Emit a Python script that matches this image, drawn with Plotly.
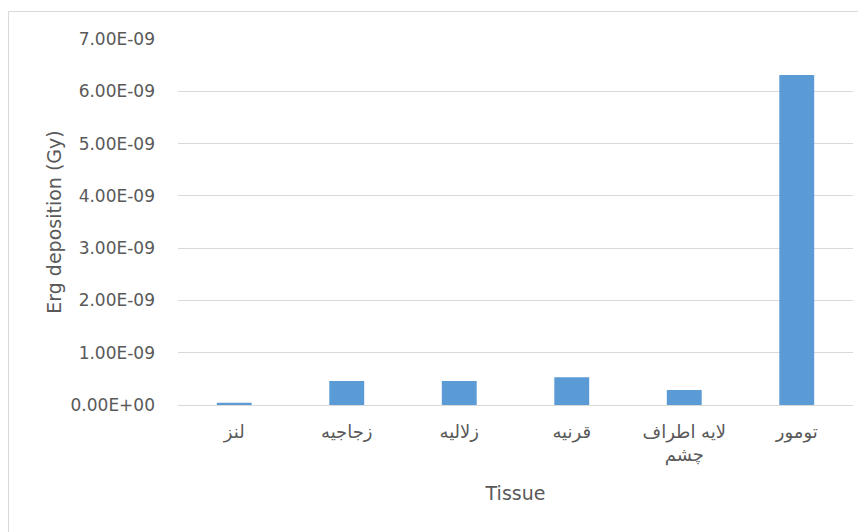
import plotly.graph_objects as go

categories = ["لنز", "زجاجیه", "زلالیه", "قرنیه", "لایه اطراف<br>چشم", "تومور"]
values = [0.045e-9, 0.46e-9, 0.46e-9, 0.53e-9, 0.285e-9, 6.31e-9]
tick_vals = [0, 1e-9, 2e-9, 3e-9, 4e-9, 5e-9, 6e-9, 7e-9]
tick_text = ["0.00E+00", "1.00E-09", "2.00E-09", "3.00E-09", "4.00E-09",
             "5.00E-09", "6.00E-09", "7.00E-09"]

fig = go.Figure(go.Bar(x=categories, y=values, marker=dict(color="#5B9BD5", line=dict(width=0))))

# page body has an 8px margin, so the figure is drawn 8px smaller and shifted
OFF = 8
W, H = 866 - OFF, 532 - OFF
L, R, T, B = 178 - OFF, 13, 39 - OFF, 127
pw, ph = W - L - R, H - T - B

fig.update_layout(
    width=W, height=H,
    margin=dict(l=L, r=R, t=T, b=B),
    paper_bgcolor="white", plot_bgcolor="white",
    bargap=0.69,
    showlegend=False,
    font=dict(family="DejaVu Sans, sans-serif", size=17, color="#595959"),
    xaxis=dict(
        showgrid=False, showline=True, linecolor="#D9D9D9", linewidth=1,
        ticks="", ticklabelstandoff=10,
        tickfont=dict(family="DejaVu Sans, sans-serif", size=18, color="#595959"),
        title=dict(text="Tissue", font=dict(size=19, color="#595959"), standoff=21),
    ),
    yaxis=dict(
        range=[0, 7e-9], tickvals=tick_vals, ticktext=tick_text,
        showgrid=True, gridcolor="#D9D9D9", gridwidth=1, zeroline=False,
        showline=False, ticks="", ticklabelstandoff=22,
        tickfont=dict(size=17, color="#595959"),
        title=dict(text="Erg deposition (Gy)", font=dict(size=19, color="#595959"), standoff=3),
    ),
    shapes=[dict(
        type="rect", xref="paper", yref="paper",
        x0=(0.5 - L) / pw, x1=1.2,
        y0=-0.5, y1=(H - B - 3.5) / ph,
        line=dict(color="#D9D9D9", width=1), fillcolor="rgba(0,0,0,0)", layer="below",
    )],
)

fig.write_html("out.html")
